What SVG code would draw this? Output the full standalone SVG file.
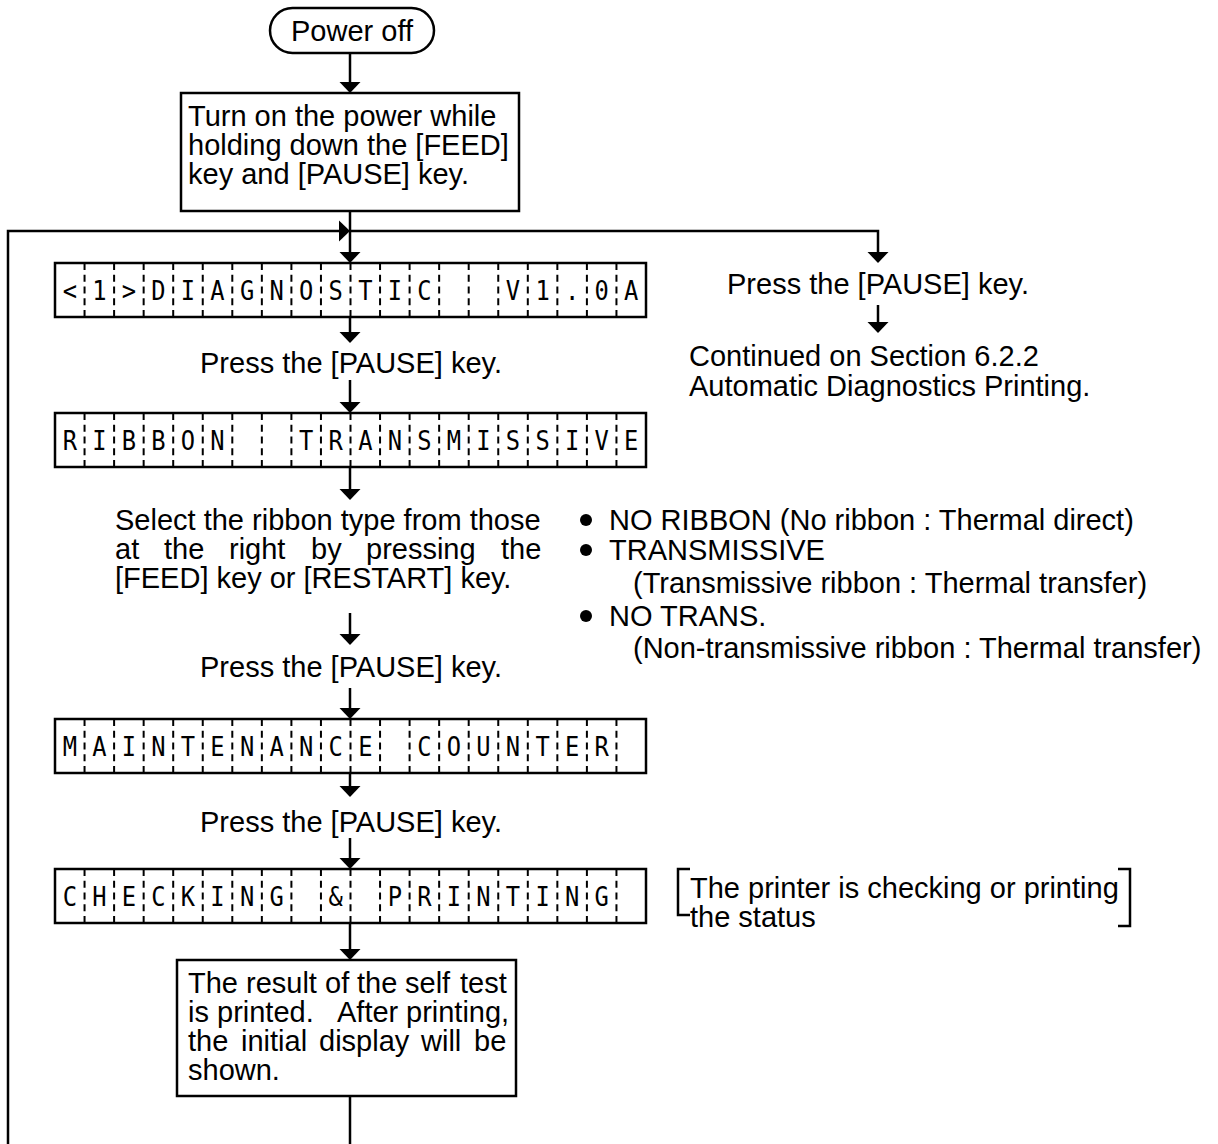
<svg xmlns="http://www.w3.org/2000/svg" width="1218" height="1144" viewBox="0 0 1218 1144">
<defs>
<style>
.t{font-family:"Liberation Sans",Arial,Helvetica,sans-serif;font-size:29px;fill:#000}
.c{text-anchor:middle}
.lcd{font-family:"DejaVu Sans Mono",monospace;font-size:27px;fill:#000;text-anchor:middle}
.box{fill:#fff;stroke:#000;stroke-width:2.5}
.dv{fill:none;stroke:#000;stroke-width:2;stroke-dasharray:7 4.75}
.ln{fill:none;stroke:#000;stroke-width:2.5}
.ar{marker-end:url(#ah)}
</style>
<marker id="ah" markerUnits="userSpaceOnUse" markerWidth="12" markerHeight="22" viewBox="0 0 12 22" refX="5" refY="11" orient="auto"><path d="M0,0.5 L11,11 L0,21.5 z" fill="#000"/></marker>
</defs>
<rect width="1218" height="1144" fill="#fff"/>

<g id="connectors">
<path class="ln ar" d="M350,52 V87"/>
<path class="ln ar" d="M350,211 V257"/>
<path class="ln" d="M350,1095 V1144"/>
<path class="ln ar" d="M8,1144 V231 H344"/>
<path class="ln ar" d="M350,231 H878 V257"/>
<path class="ln ar" d="M878,305 V327"/>
<path class="ln ar" d="M350,317 V337"/>
<path class="ln ar" d="M350,380 V407"/>
<path class="ln ar" d="M350,467 V494"/>
<path class="ln ar" d="M350,613 V639"/>
<path class="ln ar" d="M350,688 V713"/>
<path class="ln ar" d="M350,773 V791"/>
<path class="ln ar" d="M350,838 V863"/>
<path class="ln ar" d="M350,923 V954"/>
</g>

<g id="power-off">
<rect class="box" x="270" y="8" width="164" height="45" rx="22.5"/>
<text class="t c" x="352" y="41">Power off</text>
</g>

<g id="turn-on">
<rect class="box" x="181" y="93" width="338" height="118"/>
<text class="t" x="188" y="126">Turn on the power while</text>
<text class="t" x="188" y="155">holding down the [FEED]</text>
<text class="t" x="188" y="184">key and [PAUSE] key.</text>
</g>

<g id="lcd1">
<rect class="box" x="55" y="263" width="591" height="54"/>
<path class="dv" d="M84.55,263v54M114.1,263v54M143.65,263v54M173.2,263v54M202.75,263v54M232.3,263v54M261.85,263v54M291.4,263v54M320.95,263v54M350.5,263v54M380.05,263v54M409.6,263v54M439.15,263v54M468.7,263v54M498.25,263v54M527.8,263v54M557.35,263v54M586.9,263v54M616.45,263v54"/>
<text class="lcd" transform="scale(0.88 1)" y="300" x="79.32 112.84 146.48 180 213.64 247.16 280.8 314.32 347.95 381.48 415.11 448.64 482.27 582.95 616.59 650.11 683.75 717.27">&lt;1&gt;DIAGNOSTICV1.0A</text>
</g>

<g id="press-pause-1"><text class="t c" x="351" y="373">Press the [PAUSE] key.</text></g>

<g id="lcd2">
<rect class="box" x="55" y="413" width="591" height="54"/>
<path class="dv" d="M84.55,413v54M114.1,413v54M143.65,413v54M173.2,413v54M202.75,413v54M232.3,413v54M261.85,413v54M291.4,413v54M320.95,413v54M350.5,413v54M380.05,413v54M409.6,413v54M439.15,413v54M468.7,413v54M498.25,413v54M527.8,413v54M557.35,413v54M586.9,413v54M616.45,413v54"/>
<text class="lcd" transform="scale(0.88 1)" y="450" x="79.32 112.84 146.48 180 213.64 247.16 347.95 381.48 415.11 448.64 482.27 515.8 549.43 582.95 616.59 650.11 683.75 717.27">RIBBONTRANSMISSIVE</text>
</g>

<g id="select-ribbon">
<text class="t" x="115" y="530">Select the ribbon type from those</text>
<text class="t" y="559"><tspan x="115">at</tspan><tspan x="164">the</tspan><tspan x="229">right</tspan><tspan x="311">by</tspan><tspan x="366">pressing</tspan><tspan x="501">the</tspan></text>
<text class="t" x="115" y="588">[FEED] key or [RESTART] key.</text>
</g>

<g id="ribbon-options">
<circle cx="586" cy="520" r="6"/>
<text class="t" x="609" y="530">NO RIBBON (No ribbon : Thermal direct)</text>
<circle cx="586" cy="550" r="6"/>
<text class="t" x="609" y="560">TRANSMISSIVE</text>
<text class="t" x="633" y="593">(Transmissive ribbon : Thermal transfer)</text>
<circle cx="586" cy="616" r="6"/>
<text class="t" x="609" y="626">NO TRANS.</text>
<text class="t" x="633" y="658">(Non-transmissive ribbon : Thermal transfer)</text>
</g>

<g id="press-pause-2"><text class="t c" x="351" y="677">Press the [PAUSE] key.</text></g>

<g id="lcd3">
<rect class="box" x="55" y="719" width="591" height="54"/>
<path class="dv" d="M84.55,719v54M114.1,719v54M143.65,719v54M173.2,719v54M202.75,719v54M232.3,719v54M261.85,719v54M291.4,719v54M320.95,719v54M350.5,719v54M380.05,719v54M409.6,719v54M439.15,719v54M468.7,719v54M498.25,719v54M527.8,719v54M557.35,719v54M586.9,719v54M616.45,719v54"/>
<text class="lcd" transform="scale(0.88 1)" y="756" x="79.32 112.84 146.48 180 213.64 247.16 280.8 314.32 347.95 381.48 415.11 482.27 515.8 549.43 582.95 616.59 650.11 683.75">MAINTENANCECOUNTER</text>
</g>

<g id="press-pause-3"><text class="t c" x="351" y="832">Press the [PAUSE] key.</text></g>

<g id="lcd4">
<rect class="box" x="55" y="869" width="591" height="54"/>
<path class="dv" d="M84.55,869v54M114.1,869v54M143.65,869v54M173.2,869v54M202.75,869v54M232.3,869v54M261.85,869v54M291.4,869v54M320.95,869v54M350.5,869v54M380.05,869v54M409.6,869v54M439.15,869v54M468.7,869v54M498.25,869v54M527.8,869v54M557.35,869v54M586.9,869v54M616.45,869v54"/>
<text class="lcd" transform="scale(0.88 1)" y="906" x="79.32 112.84 146.48 180 213.64 247.16 280.8 314.32 381.48 448.64 482.27 515.8 549.43 582.95 616.59 650.11 683.75">CHECKING&amp;PRINTING</text>
</g>

<g id="status-note">
<path class="ln" d="M690,869 H678 V915 H690"/>
<path class="ln" d="M1118,869 H1130 V926 H1118"/>
<text class="t" x="690" y="898">The printer is checking or printing</text>
<text class="t" x="690" y="927">the status</text>
</g>

<g id="result">
<rect class="box" x="177" y="960" width="339" height="136"/>
<text class="t" y="993"><tspan x="188">The</tspan><tspan x="246">result</tspan><tspan x="325">of</tspan><tspan x="357">the</tspan><tspan x="405">self</tspan><tspan x="460">test</tspan></text>
<text class="t" y="1022"><tspan x="188">is</tspan><tspan x="217">printed.</tspan><tspan x="337">After</tspan><tspan x="406">printing,</tspan></text>
<text class="t" y="1051"><tspan x="188">the</tspan><tspan x="241">initial</tspan><tspan x="319">display</tspan><tspan x="421">will</tspan><tspan x="474">be</tspan></text>
<text class="t" x="188" y="1080">shown.</text>
</g>

<g id="auto-branch">
<text class="t c" x="878" y="294">Press the [PAUSE] key.</text>
<text class="t" x="689" y="366">Continued on Section 6.2.2</text>
<text class="t" x="689" y="396">Automatic Diagnostics Printing.</text>
</g>
</svg>
